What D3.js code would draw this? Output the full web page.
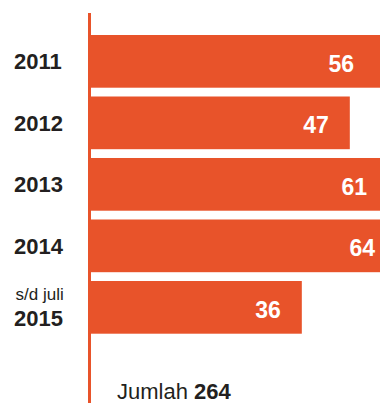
<!DOCTYPE html>
<html>
<head>
<meta charset="utf-8">
<script src="https://cdn.jsdelivr.net/npm/d3@7"></script>
<style>
  html, body { margin: 0; padding: 0; background: #fff; overflow: hidden; }
  svg { display: block; font-family: "Liberation Sans", Arial, Helvetica, sans-serif; }
</style>
</head>
<body>
<script>
// Jumlah per tahun
const years = ["2011", "2012", "2013", "2014", "2015"];
const notes = ["", "", "", "", "s/d juli"];
const values = [56, 47, 61, 64, 36];

const W = 380, H = 403;
const barColor = "#e8532a";
const textColor = "#231f20";

const svg = d3.select("body").append("svg")
  .attr("width", W).attr("height", H);

const axisX = 88;

// horizontal value scale; bars past the right edge are cut by the frame
const x = d3.scaleLinear().domain([-13, 64]).range([axisX, 424]);
// value labels of the long bars are held inside the visible area
const xCap = d3.scaleLinear().domain([56, 64]).range([W - 26, W - 5]);

const y = d3.scaleBand().domain(years).range([35, 333.7])
  .paddingInner(0.143).paddingOuter(0);

const rows = years.map((yr, i) => ({ year: yr, note: notes[i], value: values[i] }));

// vertical baseline
svg.append("rect")
  .attr("x", axisX).attr("y", 13)
  .attr("width", 3).attr("height", H - 13)
  .attr("fill", barColor);

// bars
svg.selectAll("rect.bar").data(rows).join("rect")
  .attr("class", "bar")
  .attr("x", axisX)
  .attr("y", d => y(d.year))
  .attr("width", d => x(d.value) - axisX)
  .attr("height", y.bandwidth())
  .attr("fill", barColor);

// value labels
svg.selectAll("text.val").data(rows).join("text")
  .attr("class", "val")
  .attr("x", d => Math.min(x(d.value) - 21, xCap(d.value)))
  .attr("y", d => y(d.year) + y.bandwidth() / 2 + 10.5)
  .attr("text-anchor", "end")
  .attr("fill", "#fff")
  .attr("font-weight", "bold")
  .attr("font-size", 23)
  .text(d => d.value);

// year labels
const lab = svg.selectAll("g.lab").data(rows).join("g").attr("class", "lab");
lab.append("text")
  .attr("x", 14)
  .attr("y", d => y(d.year) + y.bandwidth() / 2 + (d.note ? 18.5 : 8))
  .attr("fill", textColor)
  .attr("font-weight", "bold")
  .attr("font-size", 22)
  .text(d => d.year);
lab.filter(d => d.note).append("text")
  .attr("x", 15.5)
  .attr("y", d => y(d.year) + y.bandwidth() / 2 - 7.5)
  .attr("fill", textColor)
  .attr("font-size", 17)
  .text(d => d.note);

// total
const total = svg.append("text")
  .attr("x", 117)
  .attr("y", 399)
  .attr("fill", textColor)
  .attr("font-size", 22);
total.append("tspan").text("Jumlah ");
total.append("tspan").attr("font-weight", "bold").text(d3.sum(values));
</script>
</body>
</html>
